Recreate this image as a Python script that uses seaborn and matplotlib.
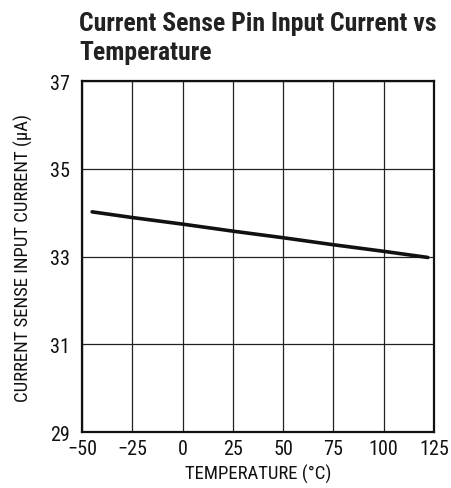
import numpy as np
import pandas as pd
import seaborn as sns
import matplotlib.pyplot as plt

# data
temperature = [-45, -25, 0, 25, 50, 75, 100, 122]
current = [34.02, 33.89, 33.74, 33.58, 33.43, 33.27, 33.12, 32.98]
x_ticks = [-50, -25, 0, 25, 50, 75, 100, 125]
x_tick_labels = ["\u221250", "\u221225", "0", "25", "50", "75", "100", "125"]
y_ticks = [29, 31, 33, 35, 37]

df = pd.DataFrame({"temp": temperature, "current": current})

sns.set_style("white")
plt.rcParams['font.family'] = ['Roboto Condensed', 'DejaVu Sans']

fig = plt.figure(figsize=(4.51, 4.89), dpi=100)
ax = fig.add_axes([0.182, 0.1145, 0.78, 0.7175])

sns.lineplot(data=df, x="temp", y="current", ax=ax, color="#111111", linewidth=2.6)

ax.set_xlim(-50, 125)
ax.set_ylim(29, 37)
ax.set_xticks(x_ticks)
ax.set_xticklabels(x_tick_labels)
ax.set_yticks(y_ticks)
ax.grid(True, color="#222222", linewidth=0.9)
for s in ax.spines.values():
    s.set_visible(True)
    s.set_color("#111111")
    s.set_linewidth(1.6)

ax.tick_params(axis='both', length=0, labelsize=14.5, colors="#111111")
ax.tick_params(axis='y', pad=9)
ax.tick_params(axis='x', pad=5)
ax.set_xlabel("TEMPERATURE (\u00b0C)", fontsize=13.5, color="#111111", labelpad=4)
ax.set_ylabel("CURRENT SENSE INPUT CURRENT (\u00b5A)", fontsize=13.5, color="#111111", labelpad=12)

fig.text(0.176, 0.877, "Current Sense Pin Input Current vs\nTemperature",
         fontsize=18.5, fontweight='bold', color="#222222", ha='left', va='baseline',
         linespacing=1.25)

plt.savefig("out.png", dpi=100)
